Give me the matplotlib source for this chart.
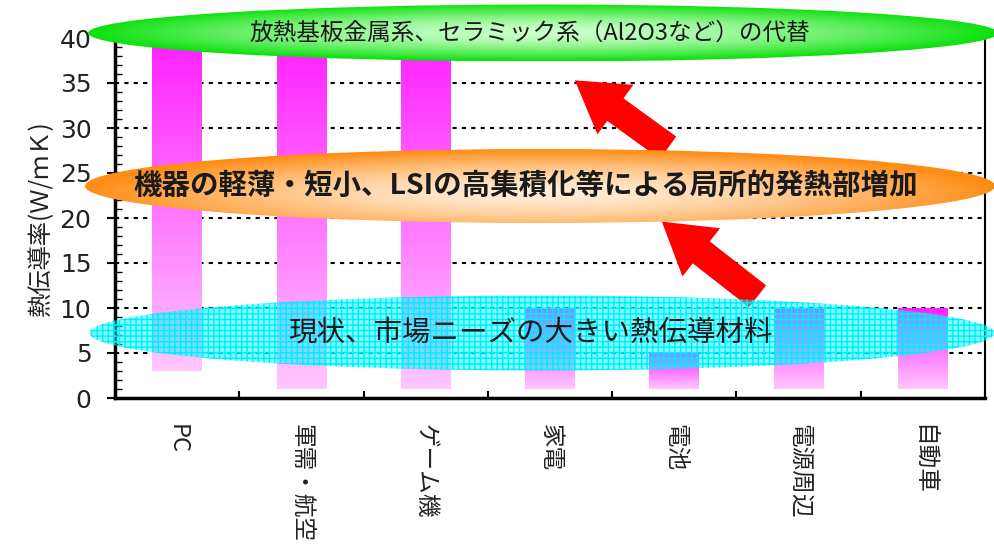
import numpy as np
import matplotlib.pyplot as plt
from matplotlib.patches import Ellipse, FancyArrowPatch

plt.rcParams['font.family'] = ['Noto Sans CJK JP', 'DejaVu Sans']

# data
categories = ['PC', '軍需・航空', 'ゲーム機', '家電', '電池', '電源周辺', '自動車']
low = [3, 1, 1, 1, 1, 1, 1]
high = [40, 40, 40, 10, 5, 10, 10]
yticks = [0, 5, 10, 15, 20, 25, 30, 35, 40]
notes = ['放熱基板金属系、セラミック系（Al2O3など）の代替',
         '機器の軽薄・短小、LSIの高集積化等による局所的発熱部増加',
         '現状、市場ニーズの大きい熱伝導材料']

fig = plt.figure(figsize=(9.95, 5.56), dpi=100)
ax = fig.add_axes([115 / 995, 1 - 398 / 556, 870 / 995, 360 / 556])

x = np.arange(len(categories))
bars = ax.bar(x, np.subtract(high, low), bottom=low, width=0.4,
              color='none', edgecolor='none', zorder=2)

# vertical gradient inside each bar: light pink at bottom -> magenta at top
t = np.linspace(0, 1, 256)[:, None]
grad = np.zeros((256, 1, 3))
grad[..., 0] = 1.0
grad[..., 1] = 0.78 - 0.66 * t
grad[..., 2] = 1.0
for b in bars:
    x0, y0, w, h = b.get_x(), b.get_y(), b.get_width(), b.get_height()
    im = ax.imshow(grad, extent=[x0, x0 + w, y0, y0 + h], origin='lower',
                   aspect='auto', zorder=2)
    im.set_clip_path(b)

ax.set_xlim(-0.5, len(categories) - 0.5)
ax.set_ylim(0, 40)
ax.set_yticks(yticks)
ax.set_yticks(np.arange(0, 41, 1), minor=True)
ax.set_xticks(x)
ax.set_xticklabels(categories, rotation=-90, fontsize=17, color='#222222')
ax.set_xticks(np.arange(-0.5, len(categories), 1), minor=True)
ax.tick_params(axis='y', which='major', direction='out', length=6, width=1.5,
               labelsize=18, pad=11, labelcolor='#222222')
ax.tick_params(axis='y', which='minor', direction='in', length=5, width=1)
ax.tick_params(axis='x', which='major', length=0, pad=19)
ax.tick_params(axis='x', which='minor', direction='in', length=5, width=1.5)
for lab in ax.get_yticklabels():
    lab.set_family('DejaVu Sans')

ax.yaxis.grid(True, linestyle=(0, (2, 2.5)), color='black', lw=1.5)
ax.set_axisbelow(True)
for s in ['left', 'bottom']:
    ax.spines[s].set_linewidth(2.5)
for s in ['right', 'top']:
    ax.spines[s].set_linewidth(1.5)

ax.set_ylabel('熱伝導率(Ｗ/ｍＫ)', fontsize=17.5, color='#222222', labelpad=4)

# red arrows
for tail, tip in [((3.95, 27.8), (3.2, 35.3)), ((4.67, 11.3), (3.9, 19.6))]:
    arr = FancyArrowPatch(tail, tip, arrowstyle='simple,head_length=36,head_width=44,tail_width=20',
                          mutation_scale=1, color='red', lw=0, shrinkA=0, shrinkB=0,
                          zorder=4, clip_on=False)
    ax.add_patch(arr)

# overlay for ellipses
ov = fig.add_axes([0, 0, 1, 1], zorder=5)
ov.set_xlim(0, 995)
ov.set_ylim(556, 0)
ov.axis('off')


def grad_ellipse(cx, cy, w, h, inner, outer, p, dy=0.0):
    xs = np.linspace(-1, 1, 500)
    ys = np.linspace(-1, 1, 120)
    X, Y = np.meshgrid(xs, ys)
    r = np.clip(np.sqrt(X ** 2 + ((Y - dy) / (1 + abs(dy))) ** 2), 0, 1) ** p
    img = np.array(inner)[None, None, :] + (np.array(outer) - np.array(inner))[None, None, :] * r[..., None]
    e = Ellipse((cx, cy), w, h, facecolor='none', edgecolor='none')
    ov.add_patch(e)
    im = ov.imshow(np.clip(img, 0, 1), extent=(cx - w / 2, cx + w / 2, cy + h / 2, cy - h / 2),
                   origin='upper', aspect='auto', zorder=2)
    im.set_clip_path(e)


# cyan (translucent, gridded)
ov.add_patch(Ellipse((542, 333), 905, 75, facecolor=(0, 1, 1, 0.5),
                     edgecolor=(0, 0.92, 1, 1.0), lw=0, hatch='+++', zorder=1))
ov.text(530, 333, notes[2], fontsize=20.5, ha='center', va='center', color='#1a1a1a', zorder=6)

# orange
grad_ellipse(540, 186, 910, 74, (1.0, 0.93, 0.85), (1.0, 0.55, 0.08), 1.6, dy=0.2)
ov.text(526, 186, notes[1], fontsize=20.5, fontweight='bold', ha='center', va='center',
        color='#1a1a1a', zorder=6)

# green
grad_ellipse(543, 33, 910, 57, (0.8, 1.0, 0.8), (0.05, 0.88, 0.05), 1.6)
ov.text(530, 33, notes[0], fontsize=17, ha='center', va='center', color='#1a1a1a', zorder=6)

fig.savefig('out.png', dpi=100)
